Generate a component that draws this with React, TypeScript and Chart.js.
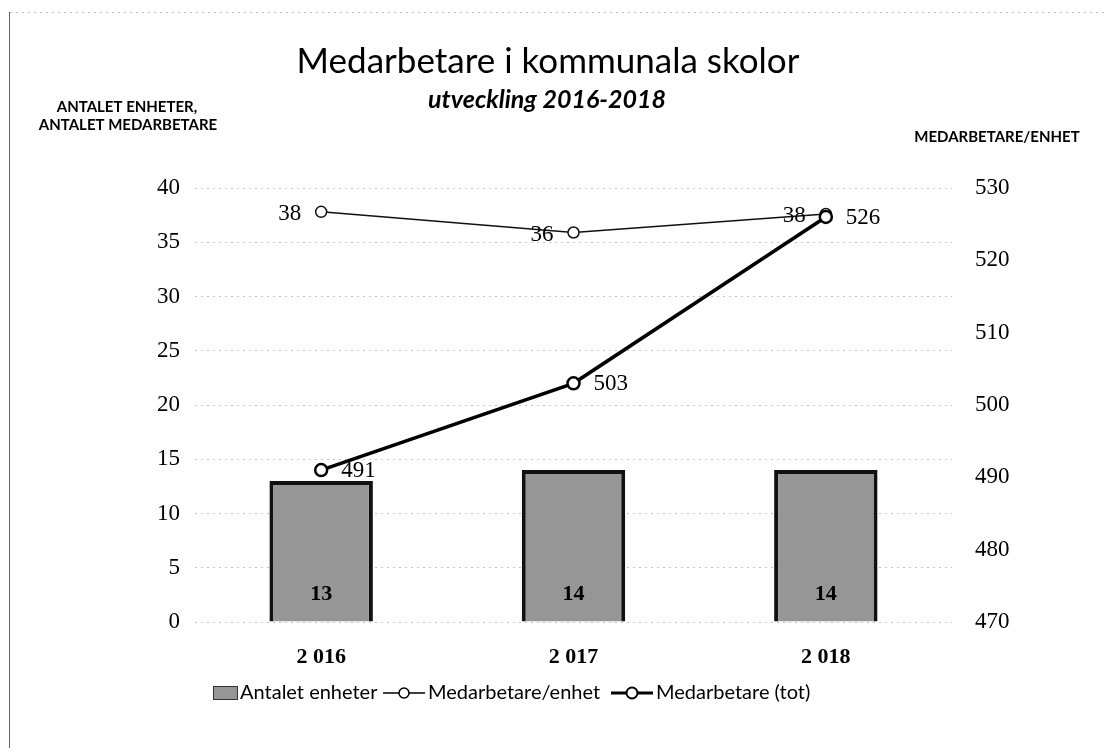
import React, { useEffect, useRef } from "react";
import { Chart, registerables } from "chart.js";

Chart.register(...registerables);

// ---- data ----
const years = ["2 016", "2 017", "2 018"];
const antaletEnheter = [13, 14, 14];
const medarbetarePerEnhet = [37.8, 35.9, 37.6];
const medarbetareTot = [491, 503, 526];

const leftAxis = { min: 0, max: 40, step: 5 };
const rightAxis = { min: 470, max: 530, step: 10 };

const titleText = "Medarbetare i kommunala skolor";
const subtitleText = "utveckling 2016-2018";
const leftAxisTitle = ["ANTALET ENHETER,", "ANTALET MEDARBETARE"];
const rightAxisTitle = "MEDARBETARE/ENHET";
const legendLabels = ["Antalet enheter", "Medarbetare/enhet", "Medarbetare (tot)"];

const W = 1099;
const H = 740;
const BAR_FILL = "#969696";
const SANS = "Lato, 'Open Sans', sans-serif";
const SERIF = "'Liberation Serif', 'DejaVu Serif', serif";

const decorPlugin = {
  id: "decor",
  afterDatasetsDraw(chart: any) {
    const ctx = chart.ctx;
    ctx.save();
    // bar labels
    const barMeta = chart.getDatasetMeta(0);
    ctx.fillStyle = "#000";
    ctx.font = `bold 22px ${SERIF}`;
    ctx.textAlign = "center";
    ctx.textBaseline = "middle";
    barMeta.data.forEach((el: any, i: number) => {
      ctx.fillText(String(antaletEnheter[i]), el.x, el.base - 27);
    });
    // line 1 labels (left of point)
    const m1 = chart.getDatasetMeta(1);
    ctx.font = `23px ${SERIF}`;
    ctx.textAlign = "right";
    m1.data.forEach((el: any, i: number) => {
      ctx.fillText(String(Math.round(medarbetarePerEnhet[i])), el.x - 20, el.y + 2);
    });
    // line 2 labels (right of point)
    const m2 = chart.getDatasetMeta(2);
    ctx.textAlign = "left";
    m2.data.forEach((el: any, i: number) => {
      ctx.fillText(String(medarbetareTot[i]), el.x + 20, el.y + 1);
    });
    ctx.restore();
  },
  afterDraw(chart: any) {
    const ctx = chart.ctx;
    ctx.save();
    // frame
    ctx.strokeStyle = "#666";
    ctx.lineWidth = 1;
    ctx.beginPath();
    ctx.moveTo(1.5, 4);
    ctx.lineTo(1.5, H);
    ctx.stroke();
    ctx.strokeStyle = "#bbb";
    ctx.setLineDash([2, 4]);
    ctx.beginPath();
    ctx.moveTo(2, 4.5);
    ctx.lineTo(W, 4.5);
    ctx.stroke();
    ctx.setLineDash([]);

    ctx.fillStyle = "#000";
    ctx.textBaseline = "middle";
    ctx.textAlign = "center";
    // title
    ctx.font = `35px ${SANS}`;
    ctx.fillText(titleText, 540, 54);
    ctx.font = `italic bold 25px ${SANS}`;
    ctx.fillText(subtitleText, 539, 92);
    // axis titles
    ctx.font = `bold 15px ${SANS}`;
    ctx.fillText(leftAxisTitle[0], 119, 99);
    ctx.fillText(leftAxisTitle[1], 120, 117);
    ctx.fillText(rightAxisTitle, 989, 129);

    // legend
    const ly = 685;
    ctx.fillStyle = BAR_FILL;
    ctx.fillRect(205, ly - 7, 25, 14);
    ctx.strokeStyle = "#333";
    ctx.lineWidth = 1;
    ctx.strokeRect(205.5, ly - 6.5, 24, 13);
    ctx.fillStyle = "#000";
    ctx.textAlign = "left";
    ctx.font = `20px ${SANS}`;
    ctx.fillText(legendLabels[0], 232, ly);

    // line 1 swatch
    ctx.strokeStyle = "#000";
    ctx.lineWidth = 1.5;
    ctx.beginPath();
    ctx.moveTo(375, ly);
    ctx.lineTo(417, ly);
    ctx.stroke();
    ctx.beginPath();
    ctx.arc(396, ly, 5, 0, Math.PI * 2);
    ctx.fillStyle = "#fff";
    ctx.fill();
    ctx.stroke();
    ctx.fillStyle = "#000";
    ctx.fillText(legendLabels[1], 420, ly);

    // line 2 swatch
    ctx.lineWidth = 3;
    ctx.beginPath();
    ctx.moveTo(603, ly);
    ctx.lineTo(645, ly);
    ctx.stroke();
    ctx.lineWidth = 2;
    ctx.beginPath();
    ctx.arc(624, ly, 5.5, 0, Math.PI * 2);
    ctx.fillStyle = "#fff";
    ctx.fill();
    ctx.stroke();
    ctx.fillStyle = "#000";
    ctx.fillText(legendLabels[2], 648, ly);
    ctx.restore();
  },
};

export default function App() {
  const ref = useRef<HTMLCanvasElement | null>(null);

  useEffect(() => {
    if (!ref.current) return;
    const chart = new Chart(ref.current, {
      type: "bar",
      data: {
        labels: years,
        datasets: [
          {
            type: "bar",
            label: legendLabels[0],
            data: antaletEnheter,
            backgroundColor: BAR_FILL,
            borderColor: "#111",
            borderWidth: 4,
            borderSkipped: "start",
            categoryPercentage: 1,
            barPercentage: 0.41,
            yAxisID: "y",
            order: 3,
          },
          {
            type: "line",
            label: legendLabels[1],
            data: medarbetarePerEnhet,
            borderColor: "#111",
            borderWidth: 1.5,
            pointRadius: 5.5,
            pointBackgroundColor: "#fff",
            pointBorderColor: "#111",
            pointBorderWidth: 1.5,
            tension: 0,
            yAxisID: "y",
            order: 2,
          },
          {
            type: "line",
            label: legendLabels[2],
            data: medarbetareTot,
            borderColor: "#000",
            borderWidth: 3.5,
            pointRadius: 6,
            pointBackgroundColor: "#fff",
            pointBorderColor: "#000",
            pointBorderWidth: 2.5,
            tension: 0,
            yAxisID: "y1",
            order: 1,
          },
        ] as any,
      },
      options: {
        animation: false,
        responsive: false,
        devicePixelRatio: 1,
        layout: { padding: { top: 180, left: 0, right: 0, bottom: 0 } },
        plugins: {
          legend: { display: false },
          tooltip: { enabled: false },
          title: { display: false },
        },
        scales: {
          x: {
            grid: { display: false, drawTicks: false },
            border: { display: false },
            ticks: {
              color: "#000",
              font: { family: SERIF, size: 22, weight: "bold" },
              padding: 22,
            },
            afterFit: (s: any) => {
              s.height = 126;
            },
          },
          y: {
            position: "left",
            min: leftAxis.min,
            max: leftAxis.max,
            ticks: {
              stepSize: leftAxis.step,
              color: "#000",
              font: { family: SERIF, size: 23 },
              padding: 15,
            },
            grid: {
              color: "#c4c4c4",
              lineWidth: 1,
              drawTicks: false,
            },
            border: { display: false, dash: [2, 4] },
            afterFit: (s: any) => {
              s.width = 187;
            },
          },
          y1: {
            position: "right",
            min: rightAxis.min,
            max: rightAxis.max,
            ticks: {
              stepSize: rightAxis.step,
              color: "#000",
              font: { family: SERIF, size: 23 },
              padding: 23,
            },
            grid: { display: false, drawTicks: false },
            border: { display: false },
            afterFit: (s: any) => {
              s.width = 155;
            },
          },
        },
      } as any,
      plugins: [decorPlugin],
    });
    return () => chart.destroy();
  }, []);

  return (
    <div style={{ width: W, height: H }}>
      <canvas ref={ref} width={W} height={H} style={{ display: "block", width: W, height: H }} />
    </div>
  );
}
